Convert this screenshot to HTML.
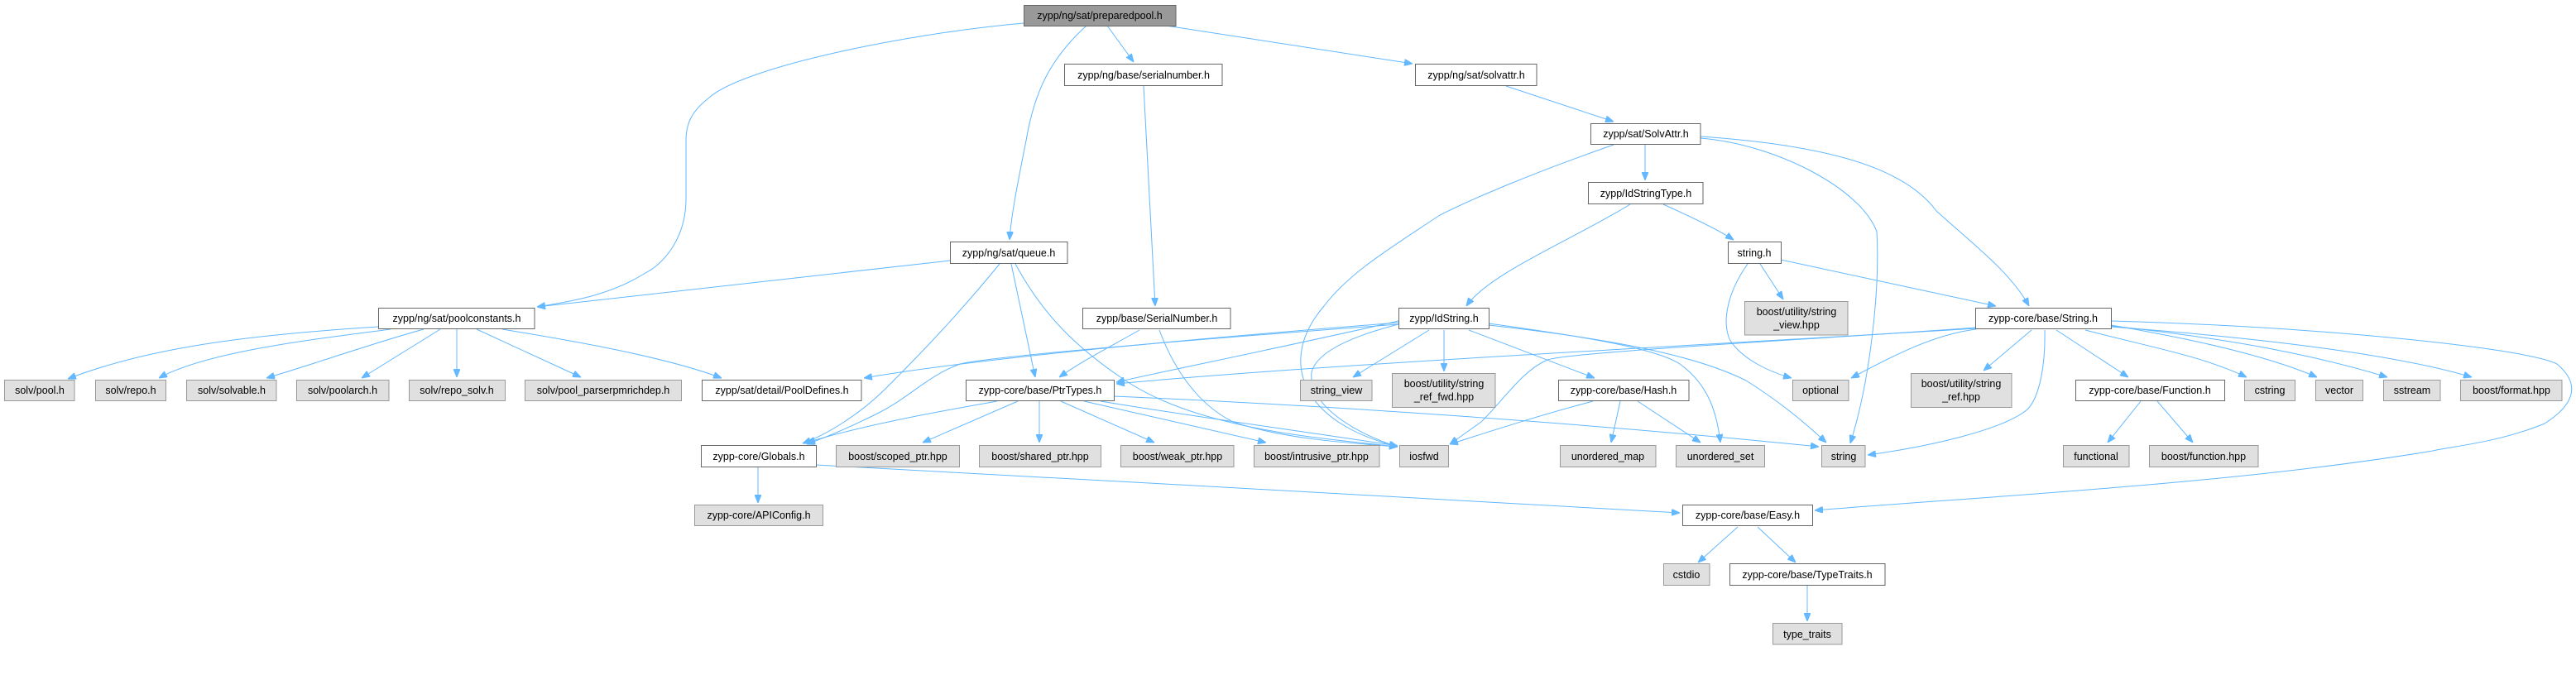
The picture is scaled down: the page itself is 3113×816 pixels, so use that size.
<!DOCTYPE html>
<html><head><meta charset="utf-8"><style>
html,body{margin:0;padding:0;background:#fff;}
svg{display:block;}
text{font-family:"Liberation Sans",Arial,sans-serif;font-size:12.5px;fill:#000;}
.e{fill:none;stroke:#63b8ff;stroke-width:1;}
.w{fill:#fff;stroke:#666;stroke-width:1;}
.g{fill:#e0e0e0;stroke:#999;stroke-width:1;}
.r{fill:#999;stroke:#666;stroke-width:1;}
</style></head><body>
<svg width="3113" height="816" viewBox="0 0 3113 816" xmlns="http://www.w3.org/2000/svg">
<defs><marker id="a" markerWidth="10" markerHeight="8" refX="10" refY="4" orient="auto" markerUnits="userSpaceOnUse"><path d="M0,0 L10,4 L0,8 z" fill="#63b8ff" stroke="#63b8ff"/></marker></defs>
<g marker-end="url(#a)">
<path class="e" d="M1237,28 C1100,40 900,80 857,118 C835,135 829,150 829,170 L829,240 C829,290 800,320 780,330 C740,355 700,363 649,371"/>
<path class="e" d="M1313,31 C1270,70 1250,110 1240,170 C1230,220 1222,260 1220,290"/>
<path class="e" d="M1338,31 L1370,75"/>
<path class="e" d="M1409,31 L1707,77"/>
<path class="e" d="M1382,104 L1396,370"/>
<path class="e" d="M1820,104 L1950,147"/>
<path class="e" d="M1148,315 L649,371"/>
<path class="e" d="M1208,319 C1150,390 1100,440 1070,470 C1040,500 1000,525 970,536"/>
<path class="e" d="M1222,319 L1251,456"/>
<path class="e" d="M1227,319 C1260,380 1300,420 1360,460 C1450,520 1600,530 1689,540"/>
<path class="e" d="M1377,399 C1340,420 1310,435 1280,456"/>
<path class="e" d="M1401,399 C1420,450 1450,490 1490,510 C1550,530 1620,535 1689,540"/>
<path class="e" d="M457,395 C300,405 180,420 82,458"/>
<path class="e" d="M472,398 C380,410 250,425 192,457"/>
<path class="e" d="M512,398 C450,415 380,440 322,457"/>
<path class="e" d="M532,398 L437,457"/>
<path class="e" d="M552,398 L552,456"/>
<path class="e" d="M576,398 L702,456"/>
<path class="e" d="M607,398 C680,410 800,430 872,457"/>
<path class="e" d="M1690,390 C1500,405 1200,430 1044,457"/>
<path class="e" d="M1690,392 C1450,410 1200,430 1160,440 C1120,455 1100,480 1060,500 C1030,515 1000,528 975,537"/>
<path class="e" d="M1690,388 C1550,420 1400,450 1349,462"/>
<path class="e" d="M1727,399 L1635,456"/>
<path class="e" d="M1745,399 L1745,449"/>
<path class="e" d="M1775,399 L1927,457"/>
<path class="e" d="M1799,391 C1900,405 2000,420 2030,440 C2065,465 2075,500 2079,535"/>
<path class="e" d="M1799,393 C1950,410 2050,430 2110,460 C2150,485 2180,510 2207,535"/>
<path class="e" d="M1690,392 C1620,410 1590,430 1585,450 C1580,490 1640,525 1689,540"/>
<path class="e" d="M1950,175 C1850,210 1780,240 1740,260 C1680,300 1630,330 1600,370 C1570,405 1565,440 1580,470 C1600,510 1650,530 1689,540"/>
<path class="e" d="M1988,175 L1988,218"/>
<path class="e" d="M2055,167 C2150,175 2250,230 2268,280 C2272,350 2260,460 2236,536"/>
<path class="e" d="M2055,165 C2200,175 2300,200 2340,255 C2390,300 2430,330 2452,370"/>
<path class="e" d="M1970,247 C1900,290 1800,330 1772,370"/>
<path class="e" d="M2010,247 C2050,265 2080,280 2095,290"/>
<path class="e" d="M2112,319 C2090,350 2080,385 2090,410 C2105,435 2140,450 2165,457"/>
<path class="e" d="M2127,319 L2155,362"/>
<path class="e" d="M2152,314 L2412,370"/>
<path class="e" d="M2388,397 C2100,415 1600,440 1349,464"/>
<path class="e" d="M2388,396 C2200,410 1900,425 1870,435 C1840,448 1820,480 1790,510 L1752,537"/>
<path class="e" d="M2388,398 C2330,405 2270,440 2237,457"/>
<path class="e" d="M2455,399 L2397,448"/>
<path class="e" d="M2471,399 C2472,440 2465,480 2450,495 C2420,520 2330,540 2257,550"/>
<path class="e" d="M2485,399 L2572,456"/>
<path class="e" d="M2520,399 C2600,420 2660,430 2715,456"/>
<path class="e" d="M2551,393 C2650,410 2740,430 2800,456"/>
<path class="e" d="M2551,394 C2700,410 2800,430 2885,456"/>
<path class="e" d="M2551,395 C2750,410 2900,430 2987,456"/>
<path class="e" d="M2551,388 C2800,395 3050,420 3090,440 C3120,465 3110,490 3075,512 C3020,535 2960,540 2940,545 C2700,585 2400,600 2193,617"/>
<path class="e" d="M2587,485 L2547,535"/>
<path class="e" d="M2607,485 L2650,535"/>
<path class="e" d="M1925,485 C1850,505 1790,525 1752,537"/>
<path class="e" d="M1958,485 L1947,535"/>
<path class="e" d="M1979,485 L2055,535"/>
<path class="e" d="M1205,485 C1120,500 1040,515 975,535"/>
<path class="e" d="M1230,485 L1115,535"/>
<path class="e" d="M1256,485 L1256,535"/>
<path class="e" d="M1282,485 L1395,535"/>
<path class="e" d="M1310,485 L1530,535"/>
<path class="e" d="M1330,485 C1450,505 1600,525 1689,539"/>
<path class="e" d="M1346,479 C1600,490 1900,510 2198,540"/>
<path class="e" d="M916,565 L916,608"/>
<path class="e" d="M986,562 C1300,580 1800,605 2030,620"/>
<path class="e" d="M2100,637 L2052,680"/>
<path class="e" d="M2124,637 L2170,680"/>
<path class="e" d="M2184,708 L2184,751"/>
</g>
<g>
<rect class="r" x="1237.5" y="6.5" width="183.5" height="25"/><text x="1329" y="23" text-anchor="middle">zypp/ng/sat/preparedpool.h</text>
<rect class="w" x="1286.5" y="77.5" width="190.5" height="26"/><text x="1382" y="95" text-anchor="middle">zypp/ng/base/serialnumber.h</text>
<rect class="w" x="1710.5" y="77.5" width="146.5" height="26"/><text x="1784" y="95" text-anchor="middle">zypp/ng/sat/solvattr.h</text>
<rect class="w" x="1922.5" y="149.5" width="132.5" height="25"/><text x="1989" y="166" text-anchor="middle">zypp/sat/SolvAttr.h</text>
<rect class="w" x="1919.5" y="220.5" width="138.5" height="26"/><text x="1989" y="238" text-anchor="middle">zypp/IdStringType.h</text>
<rect class="w" x="1148.5" y="292.5" width="141.5" height="26"/><text x="1219" y="310" text-anchor="middle">zypp/ng/sat/queue.h</text>
<rect class="w" x="2088.5" y="292.5" width="64" height="26"/><text x="2120" y="310" text-anchor="middle">string.h</text>
<rect class="w" x="457.5" y="372.5" width="188.5" height="25"/><text x="552" y="389" text-anchor="middle">zypp/ng/sat/poolconstants.h</text>
<rect class="w" x="1308.5" y="372.5" width="178.5" height="25"/><text x="1398" y="389" text-anchor="middle">zypp/base/SerialNumber.h</text>
<rect class="w" x="1690.5" y="372.5" width="109" height="25"/><text x="1745" y="389" text-anchor="middle">zypp/IdString.h</text>
<rect class="w" x="2387.5" y="372.5" width="164" height="25"/><text x="2469" y="389" text-anchor="middle">zypp-core/base/String.h</text>
<rect class="g" x="2108.5" y="364.5" width="124.5" height="40.5"/><text x="2171" y="381" text-anchor="middle">boost/utility/string</text><text x="2171" y="397" text-anchor="middle">_view.hpp</text>
<rect class="g" x="5.5" y="459.5" width="84.5" height="25"/><text x="48" y="476" text-anchor="middle">solv/pool.h</text>
<rect class="g" x="115.5" y="459.5" width="85" height="25"/><text x="158" y="476" text-anchor="middle">solv/repo.h</text>
<rect class="g" x="225.5" y="459.5" width="108.5" height="25"/><text x="280" y="476" text-anchor="middle">solv/solvable.h</text>
<rect class="g" x="358.5" y="459.5" width="111.5" height="25"/><text x="414" y="476" text-anchor="middle">solv/poolarch.h</text>
<rect class="g" x="494.5" y="459.5" width="116" height="25"/><text x="552" y="476" text-anchor="middle">solv/repo_solv.h</text>
<rect class="g" x="634.5" y="459.5" width="189" height="25"/><text x="729" y="476" text-anchor="middle">solv/pool_parserpmrichdep.h</text>
<rect class="w" x="848.5" y="459.5" width="192.5" height="25"/><text x="945" y="476" text-anchor="middle">zypp/sat/detail/PoolDefines.h</text>
<rect class="w" x="1167.5" y="459.5" width="179" height="25"/><text x="1257" y="476" text-anchor="middle">zypp-core/base/PtrTypes.h</text>
<rect class="g" x="1571.5" y="459.5" width="86.5" height="25"/><text x="1615" y="476" text-anchor="middle">string_view</text>
<rect class="g" x="1682.5" y="451.5" width="124.5" height="41"/><text x="1745" y="468" text-anchor="middle">boost/utility/string</text><text x="1745" y="484" text-anchor="middle">_ref_fwd.hpp</text>
<rect class="w" x="1883.5" y="459.5" width="157.5" height="25"/><text x="1962" y="476" text-anchor="middle">zypp-core/base/Hash.h</text>
<rect class="g" x="2166.5" y="459.5" width="67.5" height="25"/><text x="2200" y="476" text-anchor="middle">optional</text>
<rect class="g" x="2309.5" y="451.5" width="121.5" height="41"/><text x="2370" y="468" text-anchor="middle">boost/utility/string</text><text x="2370" y="484" text-anchor="middle">_ref.hpp</text>
<rect class="w" x="2508.5" y="459.5" width="180" height="25"/><text x="2598" y="476" text-anchor="middle">zypp-core/base/Function.h</text>
<rect class="g" x="2712.5" y="459.5" width="61" height="25"/><text x="2743" y="476" text-anchor="middle">cstring</text>
<rect class="g" x="2798.5" y="459.5" width="57" height="25"/><text x="2827" y="476" text-anchor="middle">vector</text>
<rect class="g" x="2880.5" y="459.5" width="68.5" height="25"/><text x="2915" y="476" text-anchor="middle">sstream</text>
<rect class="g" x="2973.5" y="459.5" width="122.5" height="25"/><text x="3035" y="476" text-anchor="middle">boost/format.hpp</text>
<rect class="w" x="847.5" y="538.5" width="139" height="26"/><text x="917" y="556" text-anchor="middle">zypp-core/Globals.h</text>
<rect class="g" x="1010.5" y="538.5" width="149" height="26"/><text x="1085" y="556" text-anchor="middle">boost/scoped_ptr.hpp</text>
<rect class="g" x="1183.5" y="538.5" width="147" height="26"/><text x="1257" y="556" text-anchor="middle">boost/shared_ptr.hpp</text>
<rect class="g" x="1354.5" y="538.5" width="136.5" height="26"/><text x="1423" y="556" text-anchor="middle">boost/weak_ptr.hpp</text>
<rect class="g" x="1515.5" y="538.5" width="151.5" height="26"/><text x="1591" y="556" text-anchor="middle">boost/intrusive_ptr.hpp</text>
<rect class="g" x="1691.5" y="538.5" width="59" height="26"/><text x="1721" y="556" text-anchor="middle">iosfwd</text>
<rect class="g" x="1885.5" y="538.5" width="115.5" height="26"/><text x="1943" y="556" text-anchor="middle">unordered_map</text>
<rect class="g" x="2025.5" y="538.5" width="107" height="26"/><text x="2079" y="556" text-anchor="middle">unordered_set</text>
<rect class="g" x="2201.5" y="538.5" width="52.5" height="26"/><text x="2228" y="556" text-anchor="middle">string</text>
<rect class="g" x="2493.5" y="538.5" width="79.5" height="26"/><text x="2533" y="556" text-anchor="middle">functional</text>
<rect class="g" x="2597.5" y="538.5" width="131.5" height="26"/><text x="2663" y="556" text-anchor="middle">boost/function.hpp</text>
<rect class="g" x="839.5" y="610.5" width="155" height="25"/><text x="917" y="627" text-anchor="middle">zypp-core/APIConfig.h</text>
<rect class="w" x="2033.5" y="610.5" width="157" height="25"/><text x="2112" y="627" text-anchor="middle">zypp-core/base/Easy.h</text>
<rect class="g" x="2010.5" y="681.5" width="55.5" height="26"/><text x="2038" y="699" text-anchor="middle">cstdio</text>
<rect class="w" x="2090.5" y="681.5" width="187.5" height="26"/><text x="2184" y="699" text-anchor="middle">zypp-core/base/TypeTraits.h</text>
<rect class="g" x="2142.5" y="753.5" width="83.5" height="25.5"/><text x="2184" y="771" text-anchor="middle">type_traits</text>
</g>
</svg>
</body></html>
